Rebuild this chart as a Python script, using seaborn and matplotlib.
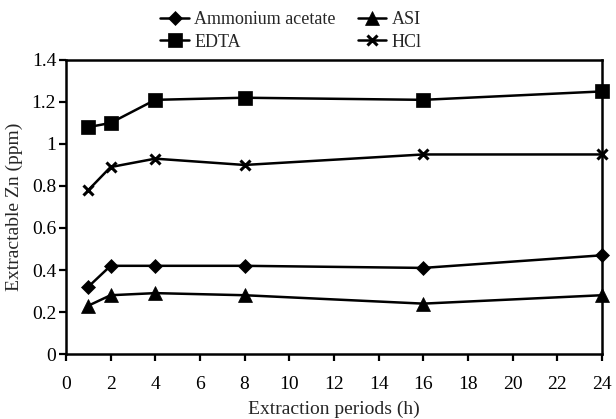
# Extractable Zn vs extraction period, four extractants
import numpy as np
import pandas as pd
import seaborn as sns
import matplotlib.pyplot as plt

hours = [1, 2, 4, 8, 16, 24]
ammonium_acetate = [0.32, 0.42, 0.42, 0.42, 0.41, 0.47]
edta = [1.08, 1.10, 1.21, 1.22, 1.21, 1.25]
asi = [0.23, 0.28, 0.29, 0.28, 0.24, 0.28]
hcl = [0.78, 0.89, 0.93, 0.90, 0.95, 0.95]

series = {
    "Ammonium acetate": ammonium_acetate,
    "EDTA": edta,
    "ASI": asi,
    "HCl": hcl,
}
markers = {"Ammonium acetate": "D", "EDTA": "s", "ASI": "^", "HCl": "x"}
sizes = {"Ammonium acetate": 7, "EDTA": 10, "ASI": 10, "HCl": 7}

df = pd.concat(
    [pd.DataFrame({"Hours": hours, "Zn": v, "Extractant": k}) for k, v in series.items()],
    ignore_index=True,
)

sns.set_style("ticks")
plt.rcParams["font.family"] = ["Liberation Serif", "DejaVu Serif"]

fig = plt.figure(figsize=(6.16, 4.19), dpi=100)
ax = fig.add_axes([0.107, 0.155, 0.870, 0.702])

for name in series:
    sub = df[df["Extractant"] == name]
    sns.lineplot(data=sub, x="Hours", y="Zn", ax=ax, color="black", lw=1.8,
                 marker=markers[name], markersize=sizes[name], mew=2.2 if name == "HCl" else 0.5,
                 mec="black", mfc="black", label=name, clip_on=False)

ax.set_xlim(0, 24)
ax.set_ylim(0, 1.4)
ax.set_xticks(np.arange(0, 25, 2))
ax.set_yticks(np.arange(0, 1.41, 0.2))
ax.set_yticklabels(["0", "0.2", "0.4", "0.6", "0.8", "1", "1.2", "1.4"])
for s in ax.spines.values():
    s.set_linewidth(1.8)
    s.set_color("black")
ax.tick_params(axis="both", direction="out", length=5, width=1.6, labelsize=14, colors="black")
ax.tick_params(axis="x", pad=11)
ax.tick_params(axis="y", pad=2)
ax.set_xlabel("Extraction periods (h)", fontsize=14, labelpad=5)
ax.set_ylabel("Extractable Zn (ppm)", fontsize=14, labelpad=6)

handles, labels = ax.get_legend_handles_labels()
order = [labels.index(n) for n in ["Ammonium acetate", "EDTA", "ASI", "HCl"]]
ax.legend([handles[i] for i in order], [labels[i] for i in order], ncol=2,
          loc="lower center", bbox_to_anchor=(0.42, 0.995), frameon=False,
          fontsize=13, handlelength=1.6, handletextpad=0.3, columnspacing=1.2,
          labelspacing=0.3, borderpad=0.1)

plt.savefig("out.png", dpi=100)
plt.close()
